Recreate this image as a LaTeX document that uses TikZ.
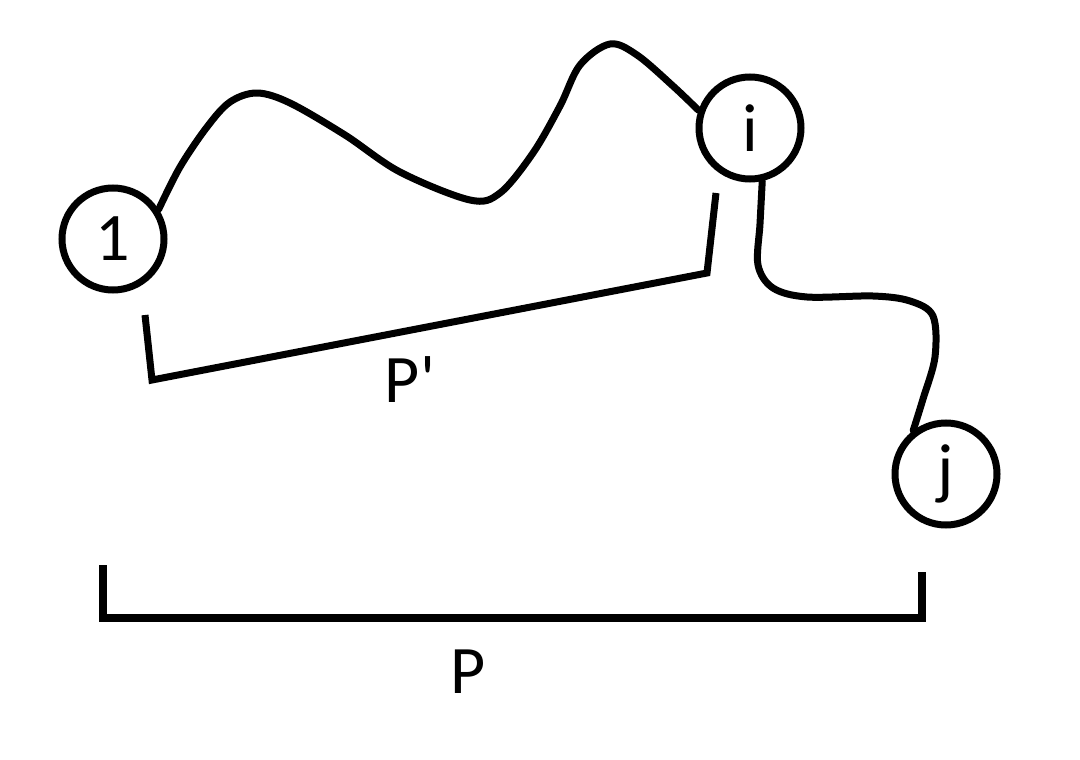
\documentclass[tikz,border=0pt]{standalone}
\usepackage{fontspec}
\setmainfont{Carlito}
\tikzset{
  vtx/.style={circle, draw, line width=7pt, minimum size=102pt, inner sep=0pt, font=\fontsize{68}{80}\selectfont},
  wire/.style={line width=7pt, line cap=round, line join=round},
  brk/.style={line width=7pt, line join=miter},
  lab/.style={anchor=base, inner sep=0pt, font=\fontsize{68}{80}\selectfont}
}
\begin{document}
\begin{tikzpicture}[x=1pt, y=-1pt]
\useasboundingbox (0,0) rectangle (1080,760);
\node[vtx] (n1) at (113,239) {1};
\node[vtx] (ni) at (750,128) {i};
\node[vtx] (nj) at (946,474) {j};
% path 1 -> i
\draw[wire] plot[smooth, tension=0.55] coordinates {(n1.33) (180,167) (207,127) (230,102) (257,93) (290,103) (345,135) (400,172) (470,200) (500,193) (533,153) (560,106) (580,65) (610,44) (637,55) (673,86) (ni.161)};
% path i -> j
\draw[wire] plot[smooth, tension=0.55] coordinates {(ni.-77) (760,224) (758,265) (773,288) (807,297) (873,296) (910,301) (933,316) (935,357) (923,399) (nj.127)};
% bracket P'
\coordinate (pa) at (145,315);
\coordinate (pb) at (152,380);
\coordinate (pc) at (707,273);
\coordinate (pd) at (716,193);
\draw[brk] (pa) -- (pb) -- (pc) -- (pd);
\node[lab] (lp1) at (410,402) {P\textquotesingle};
% bracket P
\coordinate (qa) at (103,565);
\coordinate (qb) at (103,618);
\coordinate (qc) at (922,618);
\coordinate (qd) at (922,572);
\draw[brk, line width=8pt] (qa) -- (qb) -- (qc) -- (qd);
\node[lab] (lp) at (468,693) {P};
\end{tikzpicture}
\end{document}
